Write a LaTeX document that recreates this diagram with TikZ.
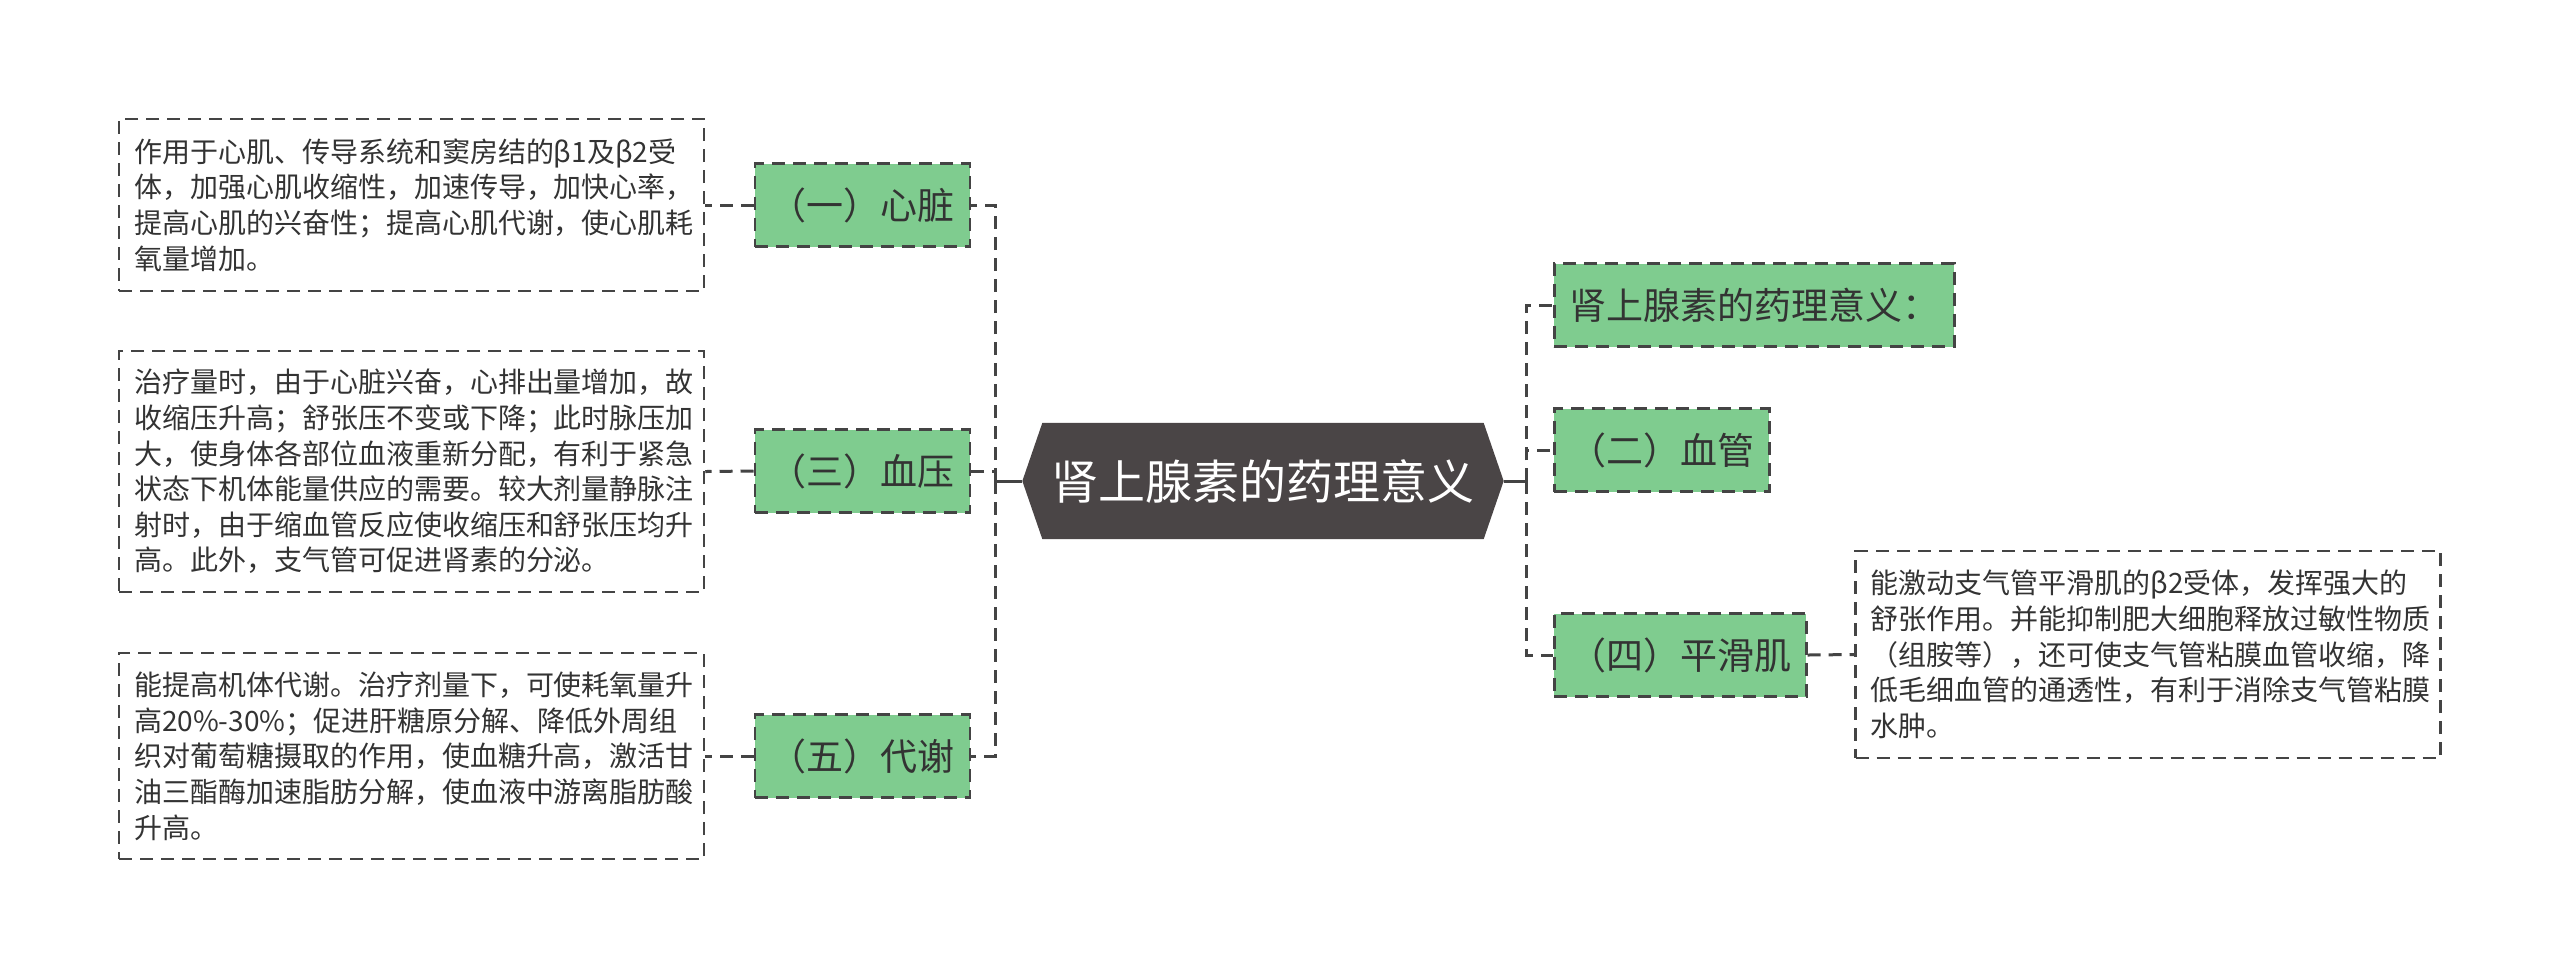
\documentclass[tikz,border=0pt]{standalone}
\usepackage{fontspec}
\setmainfont{Noto Sans CJK SC}
\usetikzlibrary{backgrounds}
\definecolor{greenc}{HTML}{7FCC8F}
\definecolor{rootc}{HTML}{4A4546}
\definecolor{linec}{HTML}{444444}
\definecolor{textc}{HTML}{333333}
\tikzset{
  leaf/.style={draw=linec, dash pattern=on 3.9pt off 2.4pt, line width=0.75pt,
    align=left, font=\fontsize{8.4pt}{10.7pt}\selectfont, text=textc,
    inner xsep=4.5pt, inner ysep=0pt, text width=166.5pt},
  topic/.style={draw=linec, dash pattern=on 3.9pt off 2.4pt, line width=0.75pt,
    fill=greenc, minimum height=24.9pt, font=\fontsize{11.1pt}{13pt}\selectfont,
    inner xsep=4.5pt, inner ysep=0pt, text=textc},
  link/.style={draw=linec, dash pattern=on 3.9pt off 2.4pt, line width=0.9pt},
  trunk/.style={draw=linec, line width=0.9pt},
}
\begin{document}
\begin{tikzpicture}[x=0.3pt,y=-0.3pt]
\useasboundingbox (0,0) rectangle (2560,979);

% root
\node[text=white, font=\fontsize{14.1pt}{16pt}\selectfont, minimum width=144pt, minimum height=34.5pt, inner sep=0pt] (root) at (1263,481) {肾上腺素的药理意义};
\begin{scope}[on background layer]
\fill[white] (0,0) rectangle (2560,979);
\fill[rootc] (root.west) -- ([xshift=6pt]root.north west) -- ([xshift=-6pt]root.north east) -- (root.east) -- ([xshift=-6pt]root.south east) -- ([xshift=6pt]root.south west) -- cycle;
\end{scope}

% left topics
\node[topic, anchor=east] (n1) at (971,205) {（一）心脏};
\node[topic, anchor=east] (n3) at (971,471) {（三）血压};
\node[topic, anchor=east] (n5) at (971,756) {（五）代谢};

% right topics
\node[topic, anchor=west] (r1) at (1553,305) {肾上腺素的药理意义：};
\node[topic, anchor=west] (r2) at (1553,450) {（二）血管};
\node[topic, anchor=west] (r4) at (1553,655) {（四）平滑肌};

% leaves
\node[leaf, minimum height=51.6pt] (b1) at (411.5,205) {作用于心肌、传导系统和窦房结的β1及β2受\\体，加强心肌收缩性，加速传导，加快心率，\\提高心肌的兴奋性；提高心肌代谢，使心肌耗\\氧量增加。};
\node[leaf, minimum height=72.3pt] (b3) at (411.5,471.5) {治疗量时，由于心脏兴奋，心排出量增加，故\\收缩压升高；舒张压不变或下降；此时脉压加\\大，使身体各部位血液重新分配，有利于紧急\\状态下机体能量供应的需要。较大剂量静脉注\\射时，由于缩血管反应使收缩压和舒张压均升\\高。此外，支气管可促进肾素的分泌。};
\node[leaf, minimum height=61.8pt] (b5) at (411.5,756) {能提高机体代谢。治疗剂量下，可使耗氧量升\\高20\%-30\%；促进肝糖原分解、降低外周组\\织对葡萄糖摄取的作用，使血糖升高，激活甘\\油三酯酶加速脂肪分解，使血液中游离脂肪酸\\升高。};
\node[leaf, minimum height=62.1pt] (b4) at (2148,654.5) {能激动支气管平滑肌的β2受体，发挥强大的\\舒张作用。并能抑制肥大细胞释放过敏性物质\\（组胺等），还可使支气管粘膜血管收缩，降\\低毛细血管的通透性，有利于消除支气管粘膜\\水肿。};

% trunks
\coordinate (lt) at (995,481);
\coordinate (rt) at (1526,481);
\draw[trunk] (root.west) -- (lt);
\draw[trunk] (root.east) -- (rt);
\draw[link] (lt) |- (n1.east);
\draw[link] (lt) |- (n3.east);
\draw[link] (lt) |- (n5.east);
\draw[link] (rt) |- (r1.west);
\draw[link] (rt) |- (r2.west);
\draw[link] (rt) |- (r4.west);

% leaf links
\draw[link] (n1.west) -- (b1.east);
\draw[link] (n3.west) -- (b3.east);
\draw[link] (n5.west) -- (b5.east);
\draw[link] (r4.east) -- (b4.west);
\end{tikzpicture}
\end{document}
